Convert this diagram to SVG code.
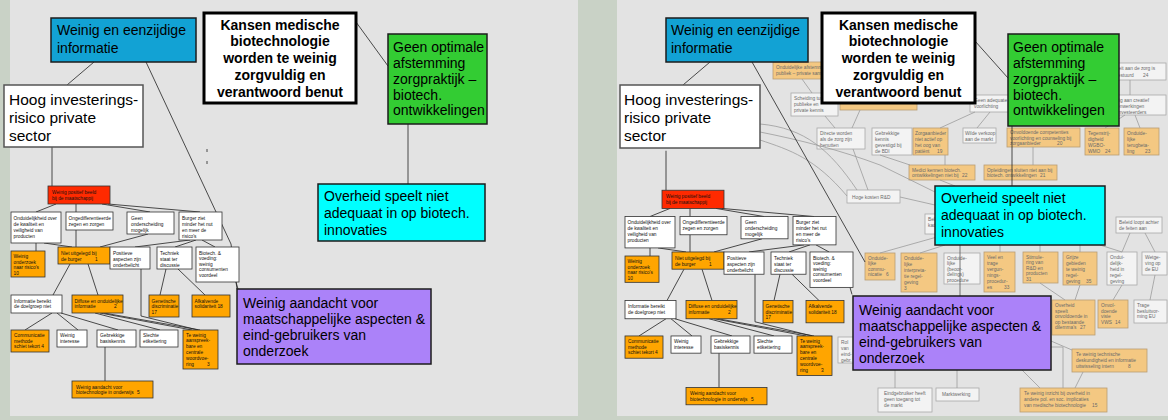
<svg xmlns="http://www.w3.org/2000/svg" width="1168" height="420" viewBox="0 0 1168 420">
<style>
text{font-family:"Liberation Sans",Arial,sans-serif;}
.st{font-size:4.8px;fill:#111}
.ft{font-size:4.8px;fill:#6a6a6a}
.sb{stroke:#333;stroke-width:0.8}
.w{fill:#fff}
.o{fill:#ffa500}
.r{fill:#ff2a00}
.fw{fill:#f3f3f3;stroke:#a9a9a9;stroke-width:0.8}
.fo{fill:#f4c882;stroke:#b99d74;stroke-width:0.8}
.ln{stroke:#222;stroke-width:0.8;fill:none}
.gl{stroke:#9c9c9c;stroke-width:0.8;fill:none}
.mb{stroke:#1c1c1c;stroke-width:1.5}
.t14{font-size:14px;fill:#000}
.t15{font-size:15.5px;fill:#000}
.tb{font-size:14px;font-weight:bold;fill:#000;text-anchor:middle}
</style>
<rect width="1168" height="420" fill="#c9d2c6"/>
<rect x="10" y="0" width="568" height="416" fill="#e3e3e3"/>
<rect x="617" y="0" width="551" height="416" fill="#e3e3e3"/>

<g id="faded-nodes">
<g id="F1"><rect class="fo" x="773" y="62" width="77" height="17"/><text class="ft" x="776" y="69">Onduidelijke afstemming<tspan x="776" dy="6">publiek – private samenwerking</tspan></text></g>
<g id="F2"><rect class="fw" x="791" y="93" width="47" height="23"/><text class="ft" x="794" y="100">Scheiding tussen<tspan x="794" dy="6">publieke en</tspan><tspan x="794" dy="6">private kennis</tspan></text></g>
<g id="F3"><rect class="fo" x="840" y="96" width="77" height="14"/></g>
<g id="F4"><rect class="fw" x="817" y="128" width="48" height="21"/><text class="ft" x="820" y="135">Directe worden<tspan x="820" dy="6">als de zorg zijn</tspan><tspan x="820" dy="6">benutten</tspan></text></g>
<g id="F5"><rect class="fw" x="872" y="128" width="40" height="27"/><text class="ft" x="875" y="135">Gebrekkige<tspan x="875" dy="6">kennis</tspan><tspan x="875" dy="6">gevestigd bij</tspan><tspan x="875" dy="6">de BDI</tspan></text></g>
<g id="F6"><rect class="fo" x="913" y="128" width="35" height="27"/><text class="ft" x="915" y="135">Zorgaanbieder<tspan x="915" dy="6">niet actief op</tspan><tspan x="915" dy="6">het oog van</tspan><tspan x="915" dy="6">patiënt</tspan><tspan x="937" dy="0">19</tspan></text></g>
<g id="F7"><rect class="fw" x="963" y="128" width="33" height="15"/><text class="ft" x="965" y="134.5">Wilde verkoop<tspan x="965" dy="6">aan de markt</tspan></text></g>
<g id="F8"><rect class="fo" x="1007" y="128" width="73" height="19"/><text class="ft" x="1010" y="134">Onvoldoende competenties<tspan x="1010" dy="5.5">voorlichting en counseling bij</tspan><tspan x="1010" dy="5.5">zorgaanbieder</tspan><tspan x="1057" dy="0">20</tspan></text></g>
<g id="F9"><rect class="fo" x="1085" y="128" width="34" height="27"/><text class="ft" x="1088" y="135">Tegenstrij-<tspan x="1088" dy="6">digheid</tspan><tspan x="1088" dy="6">WGBO-</tspan><tspan x="1088" dy="6">WMO</tspan><tspan x="1105" dy="0">24</tspan></text></g>
<g id="F10"><rect class="fo" x="1124" y="128" width="35" height="27"/><text class="ft" x="1127" y="135">Onduide-<tspan x="1127" dy="6">lijke</tspan><tspan x="1127" dy="6">terugbeta-</tspan><tspan x="1127" dy="6">ling</tspan><tspan x="1145" dy="0">23</tspan></text></g>
<g id="F11"><rect class="fo" x="909" y="165" width="66" height="15"/><text class="ft" x="912" y="171.5">Medici kennen biotech.<tspan x="912" dy="5.5">ontwikkelingen niet bij</tspan><tspan x="962" dy="0">22</tspan></text></g>
<g id="F12"><rect class="fo" x="984" y="165" width="73" height="15"/><text class="ft" x="987" y="171.5">Opleidingen sluiten niet aan bij<tspan x="987" dy="5.5">biotech. ontwikkelingen</tspan><tspan x="1040" dy="0">21</tspan></text></g>
<g id="F13"><rect class="fw" x="847" y="190" width="53" height="13"/><text class="ft" x="852" y="198.5">Hoge kosten R&amp;D</text></g>
<g id="F14"><rect class="fw" x="925" y="214" width="25" height="20"/><text class="ft" x="928" y="221">Beleid<tspan x="928" dy="6">kaders</tspan></text></g>
<g id="F15"><rect class="fw" x="1116" y="217" width="46" height="16"/><text class="ft" x="1119" y="223.5">Beleid loopt achter<tspan x="1119" dy="6">de feiten aan</tspan></text></g>
<g id="F16"><rect class="fo" x="865" y="253" width="30" height="27"/><text class="ft" x="868" y="259.5">Onduide-<tspan x="868" dy="5.5">lijke</tspan><tspan x="868" dy="5.5">commu-</tspan><tspan x="868" dy="5.5">nicatie</tspan><tspan x="886" dy="0">6</tspan></text></g>
<g id="F17"><rect class="fo" x="901" y="253" width="36" height="39"/><text class="ft" x="904" y="259.5">Onduide-<tspan x="904" dy="6">lijke</tspan><tspan x="904" dy="6">interpreta-</tspan><tspan x="904" dy="6">tie regel-</tspan><tspan x="904" dy="6">geving</tspan><tspan x="904" dy="6">3</tspan></text></g>
<g id="F18"><rect class="fw" x="944" y="253" width="36" height="31"/><text class="ft" x="947" y="259.5">Onduide-<tspan x="947" dy="5.5">lijke</tspan><tspan x="947" dy="5.5">(beoor-</tspan><tspan x="947" dy="5.5">delings)</tspan><tspan x="947" dy="5.5">procedure</tspan></text></g>
<g id="F19"><rect class="fo" x="984" y="252" width="31" height="40"/><text class="ft" x="987" y="258.5">Veel en<tspan x="987" dy="6">trage</tspan><tspan x="987" dy="6">vergun-</tspan><tspan x="987" dy="6">nings-</tspan><tspan x="987" dy="6">procedur-</tspan><tspan x="987" dy="6">es</tspan><tspan x="1004" dy="0">33</tspan></text></g>
<g id="F20"><rect class="fo" x="1023" y="252" width="35" height="31"/><text class="ft" x="1026" y="258.5">Stimule-<tspan x="1026" dy="5.6">ring van</tspan><tspan x="1026" dy="5.6">R&amp;D en</tspan><tspan x="1026" dy="5.6">producten</tspan><tspan x="1026" dy="5.6">31</tspan></text></g>
<g id="F21"><rect class="fo" x="1063" y="252" width="34" height="33"/><text class="ft" x="1066" y="258.5">Grijze<tspan x="1066" dy="6">gebieden</tspan><tspan x="1066" dy="6">te weinig</tspan><tspan x="1066" dy="6">regel-</tspan><tspan x="1066" dy="6">geving</tspan><tspan x="1086" dy="0">35</tspan></text></g>
<g id="F22"><rect class="fw" x="1107" y="252" width="30" height="33"/><text class="ft" x="1110" y="258.5">Ondui-<tspan x="1110" dy="6">delijk-</tspan><tspan x="1110" dy="6">heid in</tspan><tspan x="1110" dy="6">regel-</tspan><tspan x="1110" dy="6">geving</tspan></text></g>
<g id="F23"><rect class="fw" x="1142" y="252" width="25" height="23"/><text class="ft" x="1145" y="258.5">Wetge-<tspan x="1145" dy="6">ving op</tspan><tspan x="1145" dy="6">de EU</tspan></text></g>
<g id="F24"><rect class="fo" x="1052" y="300" width="43" height="35"/><text class="ft" x="1055" y="307">Overheid<tspan x="1055" dy="5.5">speelt</tspan><tspan x="1055" dy="5.5">onvoldoende in</tspan><tspan x="1055" dy="5.5">op bestaande</tspan><tspan x="1055" dy="5.5">dilemma's</tspan><tspan x="1080" dy="0">27</tspan></text></g>
<g id="F25"><rect class="fo" x="1098" y="300" width="30" height="28"/><text class="ft" x="1101" y="307">Onvol-<tspan x="1101" dy="5.5">doende</tspan><tspan x="1101" dy="5.5">visie</tspan><tspan x="1101" dy="5.5">VWS</tspan><tspan x="1115" dy="0">14</tspan></text></g>
<g id="F26"><rect class="fw" x="1134" y="300" width="33" height="23"/><text class="ft" x="1137" y="307">Trage<tspan x="1137" dy="5.5">besluitvor-</tspan><tspan x="1137" dy="5.5">ming EU</tspan></text></g>
<g id="F27"><rect class="fo" x="1072" y="349" width="75" height="23"/><text class="ft" x="1076" y="356">Te weinig technische<tspan x="1076" dy="6">deskundigheid en informatie</tspan><tspan x="1076" dy="6">uitwisseling intern</tspan><tspan x="1128" dy="0">8</tspan></text></g>
<g id="F28"><rect class="fo" x="1020" y="388" width="87" height="24"/><text class="ft" x="1024" y="395">Te weinig inzicht bij overheid in<tspan x="1024" dy="6">andere pol. en soc. implicaties</tspan><tspan x="1024" dy="6">van medische biotechnologie</tspan><tspan x="1092" dy="0">15</tspan></text></g>
<g id="F29"><rect class="fw" x="878" y="388" width="54" height="24"/><text class="ft" x="884" y="395">Eindgebruiker heeft<tspan x="884" dy="6">geen toegang tot</tspan><tspan x="884" dy="6">de markt</tspan></text></g>
<g id="F30"><rect class="fw" x="936" y="388" width="43" height="13"/><text class="ft" x="942" y="396">Marktwerking</text></g>
<g id="F31"><rect class="fw" x="838" y="337" width="40" height="26"/><text class="ft" x="841" y="344">Rol<tspan x="841" dy="6">van</tspan><tspan x="841" dy="6">eind-</tspan><tspan x="841" dy="6">gebr.</tspan></text></g>
<g id="F32"><rect class="fw" x="1090" y="63" width="76" height="17"/><text class="ft" x="1106" y="70">Prioriteit aan de zorg is<tspan x="1106" dy="6.5">niet gestuurd</tspan><tspan x="1143" dy="0">24</tspan></text></g>
<g id="F33"><rect class="fw" x="1098" y="95" width="68" height="20"/><text class="ft" x="1108" y="102">Weinig aan creatief<tspan x="1108" dy="6">samenwerkingen</tspan><tspan x="1108" dy="6">bijv. investeerders</tspan></text></g>
<g id="F34"><rect class="fw" x="970" y="95" width="60" height="17"/><text class="ft" x="974" y="102">Geen adequate<tspan x="974" dy="6">voorlichting</tspan></text></g>
</g>

<g id="connectors">
<g id="left-main-links" class="ln">
<path d="M67,85 L94,62"/>
<path d="M146,62 L231,244 L237,289"/>
<path d="M356,22 L388,66"/>
<path d="M408,124 V184"/>
<path d="M207,149 v3 M207,161 v3"/>
</g>
<g id="L-tree-links" class="ln">
<path d="M52,147 V186"/>
<path d="M56,204 L36,212"/>
<path d="M76,204 V212"/>
<path d="M102,204 L150,212"/>
<path d="M108,204 L200,212"/>
<path d="M36,243 V251"/>
<path d="M44,243 L72,247"/>
<path d="M76,230 V247"/>
<path d="M148,234 L100,247"/>
<path d="M190,240 L135,247"/>
<path d="M196,240 L175,247"/>
<path d="M202,240 L215,247"/>
<path d="M70,264 L53,295"/>
<path d="M88,264 L98,295"/>
<path d="M141,269 V316 L198,330"/>
<path d="M166,269 L160,295"/>
<path d="M178,269 L205,295"/>
<path d="M236,282 L238,289"/>
<path d="M52,313 L25,330"/>
<path d="M57,313 L78,330"/>
<path d="M61,313 L118,330"/>
<path d="M95,313 L160,330"/>
<path d="M100,313 L192,330"/>
<path d="M104,313 L200,330"/>
<path d="M105,347 V381"/>
</g>
<g id="R-tree-links" class="ln" transform="translate(614,2) scale(1,1.012)">
<path d="M52,147 V186"/>
<path d="M56,204 L36,212"/>
<path d="M76,204 V212"/>
<path d="M102,204 L150,212"/>
<path d="M108,204 L200,212"/>
<path d="M36,243 V251"/>
<path d="M44,243 L72,247"/>
<path d="M76,230 V247"/>
<path d="M148,234 L100,247"/>
<path d="M190,240 L135,247"/>
<path d="M196,240 L175,247"/>
<path d="M202,240 L215,247"/>
<path d="M70,264 L53,295"/>
<path d="M88,264 L98,295"/>
<path d="M141,269 V316 L198,330"/>
<path d="M166,269 L160,295"/>
<path d="M178,269 L205,295"/>
<path d="M236,282 L238,289"/>
<path d="M52,313 L25,330"/>
<path d="M57,313 L78,330"/>
<path d="M61,313 L118,330"/>
<path d="M95,313 L160,330"/>
<path d="M100,313 L192,330"/>
<path d="M104,313 L200,330"/>
<path d="M105,347 V381"/>
</g>
<g id="right-gray-links" class="gl">
<path d="M802,79 L812,93"/>
<path d="M825,116 L835,128"/>
<path d="M860,110 L852,128"/>
<path d="M760,124 C805,128 830,150 857,190"/>
<path d="M760,132 C800,140 840,150 880,165 L937,193"/>
<path d="M760,140 C790,150 815,158 847,196"/>
<path d="M853,149 L868,190"/>
<path d="M975,112 L940,128"/>
<path d="M990,112 L977,128"/>
<path d="M880,155 L910,165"/>
<path d="M945,155 L945,165"/>
<path d="M1033,147 V165"/>
<path d="M1130,80 V95"/>
<path d="M1125,115 L1105,128"/>
<path d="M1135,115 L1140,128"/>
<path d="M940,180 L955,186"/>
<path d="M900,197 L935,205"/>
<path d="M937,237 L880,253"/>
<path d="M945,245 L920,253"/>
<path d="M1000,245 V252"/>
<path d="M1040,245 V252"/>
<path d="M1080,245 V252"/>
<path d="M1100,245 L1122,252"/>
<path d="M1130,233 L1122,252"/>
<path d="M1145,233 L1155,252"/>
<path d="M1040,283 L1065,300"/>
<path d="M1080,285 L1075,300"/>
<path d="M1122,285 L1113,300"/>
<path d="M1155,275 L1150,300"/>
<path d="M1051,341 L1072,350"/>
<path d="M1051,347 H1063 V388"/>
<path d="M1083,372 L1075,388"/>
<path d="M895,370 V388"/>
<path d="M957,370 V388"/>
<path d="M1022,370 L1040,388"/>
</g>
<g id="right-main-links" class="ln">
<path d="M683,85 L710,62"/>
<path d="M752,62 L865,262"/>
<path d="M975,41 L1008,78"/>
<path d="M1012,126 V186"/>
<path d="M960,245 V296" stroke="#555"/>
</g>
</g>

<g id="left-tree">
<g id="L-n1"><rect class="r sb" x="48" y="186" width="62" height="18"/><text class="st" x="52" y="194">Weinig positief beeld<tspan x="52" dy="6">bij de maatschappij</tspan></text></g>
<g id="L-n2"><rect class="w sb" x="11" y="212" width="50" height="31"/><text class="st" x="13.5" y="219.5">Onduidelijkheid over<tspan x="13.5" dy="6">de kwaliteit en</tspan><tspan x="13.5" dy="6">veiligheid van</tspan><tspan x="13.5" dy="6">producten</tspan></text></g>
<g id="L-n3"><rect class="w sb" x="66" y="212" width="47" height="18"/><text class="st" x="68.5" y="219.5">Ongedifferentieerde<tspan x="68.5" dy="6">zegen en zorgen</tspan></text></g>
<g id="L-n4"><rect class="w sb" x="127" y="212" width="47" height="22"/><text class="st" x="131" y="219.5">Geen<tspan x="131" dy="6">onderscheiding</tspan><tspan x="131" dy="6">mogelijk</tspan></text></g>
<g id="L-n5"><rect class="w sb" x="179" y="212" width="43" height="28"/><text class="st" x="182" y="219.5">Burger ziet<tspan x="182" dy="6">minder het nut</tspan><tspan x="182" dy="6">en meer de</tspan><tspan x="182" dy="6">risico's</tspan></text></g>
<g id="L-n6"><rect class="o sb" x="11" y="251" width="34" height="26"/><text class="st" x="13.5" y="258">Weinig<tspan x="13.5" dy="5.6">onderzoek</tspan><tspan x="13.5" dy="5.6">naar risico's</tspan><tspan x="13.5" dy="5.6">10</tspan></text></g>
<g id="L-n7"><rect class="o sb" x="58" y="247" width="52" height="17"/><text class="st" x="61" y="254.5">Niet uitgelegd bij<tspan x="61" dy="6">de burger</tspan><tspan x="95" dy="0">1</tspan></text></g>
<g id="L-n8"><rect class="w sb" x="110" y="247" width="40" height="22"/><text class="st" x="113" y="254.5">Positieve<tspan x="113" dy="6">aspecten zijn</tspan><tspan x="113" dy="6">onderbelicht</tspan></text></g>
<g id="L-n9"><rect class="w sb" x="157" y="247" width="35" height="22"/><text class="st" x="160" y="254.5">Techniek<tspan x="160" dy="6">staat ter</tspan><tspan x="160" dy="6">discussie</tspan></text></g>
<g id="L-n10"><rect class="w sb" x="196" y="247" width="43" height="35"/><text class="st" x="199" y="254.5">Biotech. &amp;<tspan x="199" dy="5.5">voeding:</tspan><tspan x="199" dy="5.5">weinig</tspan><tspan x="199" dy="5.5">consumenten</tspan><tspan x="199" dy="5.5">voordeel</tspan></text></g>
<g id="L-n11"><rect class="w sb" x="11" y="295" width="51" height="18"/><text class="st" x="14" y="302.5">Informatie bereikt<tspan x="14" dy="5.5">de doelgroep niet</tspan></text></g>
<g id="L-n12"><rect class="o sb" x="72" y="295" width="51" height="18"/><text class="st" x="74.5" y="302.5">Diffuse en onduidelijke<tspan x="74.5" dy="5.5">informatie</tspan><tspan x="114" dy="0">2</tspan></text></g>
<g id="L-n13"><rect class="o sb" x="149" y="295" width="30" height="22"/><text class="st" x="151.5" y="302.5">Genetische<tspan x="151.5" dy="5.5">discriminatie</tspan><tspan x="151.5" dy="5.5">17</tspan></text></g>
<g id="L-n14"><rect class="o sb" x="192" y="295" width="38" height="22"/><text class="st" x="194.5" y="302.5">Afkalvende<tspan x="194.5" dy="5.5">solidariteit 18</tspan></text></g>
<g id="L-n15"><rect class="o sb" x="11" y="330" width="38" height="22"/><text class="st" x="14" y="337">Communicatie<tspan x="14" dy="5.5">methode</tspan><tspan x="14" dy="5.5">schiet tekort 4</tspan></text></g>
<g id="L-n16"><rect class="w sb" x="57" y="330" width="30" height="17"/><text class="st" x="60" y="337">Weinig<tspan x="60" dy="5.5">interesse</tspan></text></g>
<g id="L-n17"><rect class="w sb" x="97" y="330" width="39" height="17"/><text class="st" x="100" y="337">Gebrekkige<tspan x="100" dy="5.5">basiskennis</tspan></text></g>
<g id="L-n18"><rect class="w sb" x="140" y="330" width="38" height="17"/><text class="st" x="143" y="337">Slechte<tspan x="143" dy="5.5">etikettering</tspan></text></g>
<g id="L-n19"><rect class="o sb" x="183" y="330" width="35" height="39"/><text class="st" x="186" y="336.5">Te weinig<tspan x="186" dy="5.8">aanspreek-</tspan><tspan x="186" dy="5.8">bare en</tspan><tspan x="186" dy="5.8">centrale</tspan><tspan x="186" dy="5.8">woordvoe-</tspan><tspan x="186" dy="5.8">ring</tspan><tspan x="207" dy="0">3</tspan></text></g>
<g id="L-n20"><rect class="o sb" x="72" y="381" width="81" height="17"/><text class="st" x="76" y="388.5">Weinig aandacht voor<tspan x="76" dy="5.5">biotechnologie in onderwijs</tspan><tspan x="137" dy="0">5</tspan></text></g>
</g>

<g id="right-tree" transform="translate(614,2) scale(1,1.012)">
<g id="R-n1"><rect class="r sb" x="48" y="186" width="62" height="18"/><text class="st" x="52" y="194">Weinig positief beeld<tspan x="52" dy="6">bij de maatschappij</tspan></text></g>
<g id="R-n2"><rect class="w sb" x="11" y="212" width="50" height="31"/><text class="st" x="13.5" y="219.5">Onduidelijkheid over<tspan x="13.5" dy="6">de kwaliteit en</tspan><tspan x="13.5" dy="6">veiligheid van</tspan><tspan x="13.5" dy="6">producten</tspan></text></g>
<g id="R-n3"><rect class="w sb" x="66" y="212" width="47" height="18"/><text class="st" x="68.5" y="219.5">Ongedifferentieerde<tspan x="68.5" dy="6">zegen en zorgen</tspan></text></g>
<g id="R-n4"><rect class="w sb" x="127" y="212" width="47" height="22"/><text class="st" x="131" y="219.5">Geen<tspan x="131" dy="6">onderscheiding</tspan><tspan x="131" dy="6">mogelijk</tspan></text></g>
<g id="R-n5"><rect class="w sb" x="179" y="212" width="43" height="28"/><text class="st" x="182" y="219.5">Burger ziet<tspan x="182" dy="6">minder het nut</tspan><tspan x="182" dy="6">en meer de</tspan><tspan x="182" dy="6">risico's</tspan></text></g>
<g id="R-n6"><rect class="o sb" x="11" y="251" width="34" height="26"/><text class="st" x="13.5" y="258">Weinig<tspan x="13.5" dy="5.6">onderzoek</tspan><tspan x="13.5" dy="5.6">naar risico's</tspan><tspan x="13.5" dy="5.6">10</tspan></text></g>
<g id="R-n7"><rect class="o sb" x="58" y="247" width="52" height="17"/><text class="st" x="61" y="254.5">Niet uitgelegd bij<tspan x="61" dy="6">de burger</tspan><tspan x="95" dy="0">1</tspan></text></g>
<g id="R-n8"><rect class="w sb" x="110" y="247" width="40" height="22"/><text class="st" x="113" y="254.5">Positieve<tspan x="113" dy="6">aspecten zijn</tspan><tspan x="113" dy="6">onderbelicht</tspan></text></g>
<g id="R-n9"><rect class="w sb" x="157" y="247" width="35" height="22"/><text class="st" x="160" y="254.5">Techniek<tspan x="160" dy="6">staat ter</tspan><tspan x="160" dy="6">discussie</tspan></text></g>
<g id="R-n10"><rect class="w sb" x="196" y="247" width="43" height="35"/><text class="st" x="199" y="254.5">Biotech. &amp;<tspan x="199" dy="5.5">voeding:</tspan><tspan x="199" dy="5.5">weinig</tspan><tspan x="199" dy="5.5">consumenten</tspan><tspan x="199" dy="5.5">voordeel</tspan></text></g>
<g id="R-n11"><rect class="w sb" x="11" y="295" width="51" height="18"/><text class="st" x="14" y="302.5">Informatie bereikt<tspan x="14" dy="5.5">de doelgroep niet</tspan></text></g>
<g id="R-n12"><rect class="o sb" x="72" y="295" width="51" height="18"/><text class="st" x="74.5" y="302.5">Diffuse en onduidelijke<tspan x="74.5" dy="5.5">informatie</tspan><tspan x="114" dy="0">2</tspan></text></g>
<g id="R-n13"><rect class="o sb" x="149" y="295" width="30" height="22"/><text class="st" x="151.5" y="302.5">Genetische<tspan x="151.5" dy="5.5">discriminatie</tspan><tspan x="151.5" dy="5.5">17</tspan></text></g>
<g id="R-n14"><rect class="o sb" x="192" y="295" width="38" height="22"/><text class="st" x="194.5" y="302.5">Afkalvende<tspan x="194.5" dy="5.5">solidariteit 18</tspan></text></g>
<g id="R-n15"><rect class="o sb" x="11" y="330" width="38" height="22"/><text class="st" x="14" y="337">Communicatie<tspan x="14" dy="5.5">methode</tspan><tspan x="14" dy="5.5">schiet tekort 4</tspan></text></g>
<g id="R-n16"><rect class="w sb" x="57" y="330" width="30" height="17"/><text class="st" x="60" y="337">Weinig<tspan x="60" dy="5.5">interesse</tspan></text></g>
<g id="R-n17"><rect class="w sb" x="97" y="330" width="39" height="17"/><text class="st" x="100" y="337">Gebrekkige<tspan x="100" dy="5.5">basiskennis</tspan></text></g>
<g id="R-n18"><rect class="w sb" x="140" y="330" width="38" height="17"/><text class="st" x="143" y="337">Slechte<tspan x="143" dy="5.5">etikettering</tspan></text></g>
<g id="R-n19"><rect class="o sb" x="183" y="330" width="35" height="39"/><text class="st" x="186" y="336.5">Te weinig<tspan x="186" dy="5.8">aanspreek-</tspan><tspan x="186" dy="5.8">bare en</tspan><tspan x="186" dy="5.8">centrale</tspan><tspan x="186" dy="5.8">woordvoe-</tspan><tspan x="186" dy="5.8">ring</tspan><tspan x="207" dy="0">3</tspan></text></g>
<g id="R-n20"><rect class="o sb" x="72" y="381" width="81" height="17"/><text class="st" x="76" y="388.5">Weinig aandacht voor<tspan x="76" dy="5.5">biotechnologie in onderwijs</tspan><tspan x="137" dy="0">5</tspan></text></g>
</g>

<g id="main-nodes">
<g id="L-informatie"><rect x="51" y="18" width="145" height="44" fill="#12a2d4" class="mb"/><text class="t14" x="57" y="35">Weinig en eenzijdige<tspan x="57" dy="18">informatie</tspan></text></g>
<g id="L-kansen"><rect x="204" y="13" width="152" height="90" fill="#fff" stroke="#000" stroke-width="3"/><text class="tb" x="280" y="29.5">Kansen medische<tspan x="280" dy="16.8">biotechnologie</tspan><tspan x="280" dy="16.8">worden te weinig</tspan><tspan x="280" dy="16.8">zorgvuldig en</tspan><tspan x="280" dy="16.8">verantwoord benut</tspan></text></g>
<g id="L-afstemming"><rect x="388" y="34" width="99" height="90" fill="#33cc33" class="mb"/><text class="t14" x="393" y="52">Geen optimale<tspan x="393" dy="16">afstemming</tspan><tspan x="393" dy="16">zorgpraktijk –</tspan><tspan x="393" dy="15.5">biotech.</tspan><tspan x="393" dy="15.5">ontwikkelingen</tspan></text></g>
<g id="L-risico"><rect x="4" y="85" width="139" height="62" fill="#fff" stroke="#555" stroke-width="1.5"/><text class="t15" x="9" y="105">Hoog investerings-<tspan x="9" dy="18">risico private</tspan><tspan x="9" dy="18">sector</tspan></text></g>
<g id="L-overheid"><rect x="318" y="184" width="167" height="57" fill="#00ffff" class="mb"/><text class="t14" x="324" y="201">Overheid speelt niet<tspan x="324" dy="17">adequaat in op biotech.</tspan><tspan x="324" dy="17">innovaties</tspan></text></g>
<g id="L-aandacht"><rect x="237" y="289" width="194" height="75" fill="#ab82f9" class="mb"/><text class="t14" x="243" y="308">Weinig aandacht voor<tspan x="243" dy="16">maatschappelijke aspecten &amp;</tspan><tspan x="243" dy="16">eind-gebruikers van</tspan><tspan x="243" dy="16">onderzoek</tspan></text></g>

<g id="R-informatie"><rect x="666" y="18" width="142" height="44" fill="#12a2d4" class="mb"/><text class="t14" x="671" y="35">Weinig en eenzijdige<tspan x="671" dy="18">informatie</tspan></text></g>
<g id="R-kansen"><rect x="822" y="13" width="153" height="90" fill="#fff" stroke="#000" stroke-width="3"/><text class="tb" x="898.5" y="29.5">Kansen medische<tspan x="898.5" dy="16.8">biotechnologie</tspan><tspan x="898.5" dy="16.8">worden te weinig</tspan><tspan x="898.5" dy="16.8">zorgvuldig en</tspan><tspan x="898.5" dy="16.8">verantwoord benut</tspan></text></g>
<g id="R-afstemming"><rect x="1008" y="34" width="111" height="92" fill="#33cc33" class="mb"/><text class="t14" x="1013" y="52">Geen optimale<tspan x="1013" dy="16">afstemming</tspan><tspan x="1013" dy="16">zorgpraktijk –</tspan><tspan x="1013" dy="15.5">biotech.</tspan><tspan x="1013" dy="15.5">ontwikkelingen</tspan></text></g>
<g id="R-risico"><rect x="620" y="85" width="140" height="63" fill="#fff" stroke="#555" stroke-width="1.5"/><text class="t15" x="624" y="105">Hoog investerings-<tspan x="624" dy="18">risico private</tspan><tspan x="624" dy="18">sector</tspan></text></g>
<g id="R-overheid"><rect x="935" y="186" width="170" height="59" fill="#00ffff" class="mb"/><text class="t14" x="941" y="203">Overheid speelt niet<tspan x="941" dy="17">adequaat in op biotech.</tspan><tspan x="941" dy="17">innovaties</tspan></text></g>
<g id="R-aandacht"><rect x="853" y="296" width="198" height="74" fill="#ab82f9" class="mb"/><text class="t14" x="859" y="315">Weinig aandacht voor<tspan x="859" dy="16">maatschappelijke aspecten &amp;</tspan><tspan x="859" dy="16">eind-gebruikers van</tspan><tspan x="859" dy="16">onderzoek</tspan></text></g>
</g>
</svg>
